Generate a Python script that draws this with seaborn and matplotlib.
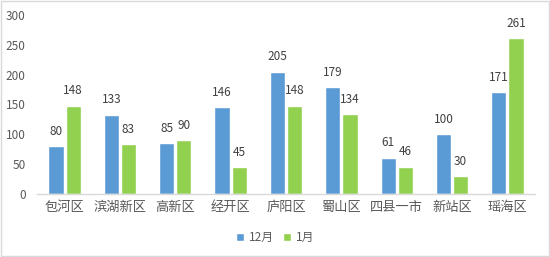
import matplotlib
matplotlib.use("Agg")
import matplotlib.pyplot as plt
import seaborn as sns
import pandas as pd
from matplotlib.patches import Rectangle

categories = ["包河区", "滨湖新区", "高新区", "经开区", "庐阳区", "蜀山区", "四县一市", "新站区", "瑶海区"]
dec_values = [80, 133, 85, 146, 205, 179, 61, 100, 171]
jan_values = [148, 83, 90, 45, 148, 134, 46, 30, 261]
series_names = ["12月", "1月"]
colors = ["#5B9BD5", "#92D050"]

df = pd.DataFrame({
    "区域": categories * 2,
    "值": dec_values + jan_values,
    "月份": [series_names[0]] * len(categories) + [series_names[1]] * len(categories),
})

sns.set_theme(style="white")
plt.rcParams["font.family"] = ["Noto Sans CJK SC", "DejaVu Sans"]

fig = plt.figure(figsize=(5.5, 2.57), dpi=100)
ax = fig.add_axes([0.067, 0.245, 0.906, 0.697])
sns.barplot(data=df, x="区域", y="值", hue="月份", palette=colors, saturation=1,
            width=0.62, gap=0.12, ax=ax, legend=True)

ax.set_ylim(0, 300)
ax.set_yticks(range(0, 301, 50))
ax.set_xlim(-0.5, len(categories) - 0.5)
ax.set_xlabel("")
ax.set_ylabel("")
for s in ["top", "right", "left"]:
    ax.spines[s].set_visible(False)
ax.spines["bottom"].set_color("#D9D9D9")
ax.spines["bottom"].set_linewidth(1)
ax.tick_params(axis="y", labelsize=8.5, colors="#595959", length=0, pad=8)
ax.tick_params(axis="x", labelsize=9.5, colors="#595959", length=0, pad=5)
ax.grid(False)

for cont in ax.containers:
    ax.bar_label(cont, fmt="%d", padding=6, fontsize=8.5, color="#404040")

handles, labels = ax.get_legend_handles_labels()
ax.legend_.remove()
fig.legend(handles, labels, loc="center", bbox_to_anchor=(0.5, 0.075), ncol=2,
           frameon=False, fontsize=8.5, handlelength=0.7, handleheight=0.7,
           handletextpad=0.4, columnspacing=0.8, labelcolor="#595959")

fig.patches.append(Rectangle((0.002, 0.004), 0.996, 0.992, transform=fig.transFigure,
                             fill=False, edgecolor="#D9D9D9", linewidth=1))
fig.savefig("out.png", dpi=100)
